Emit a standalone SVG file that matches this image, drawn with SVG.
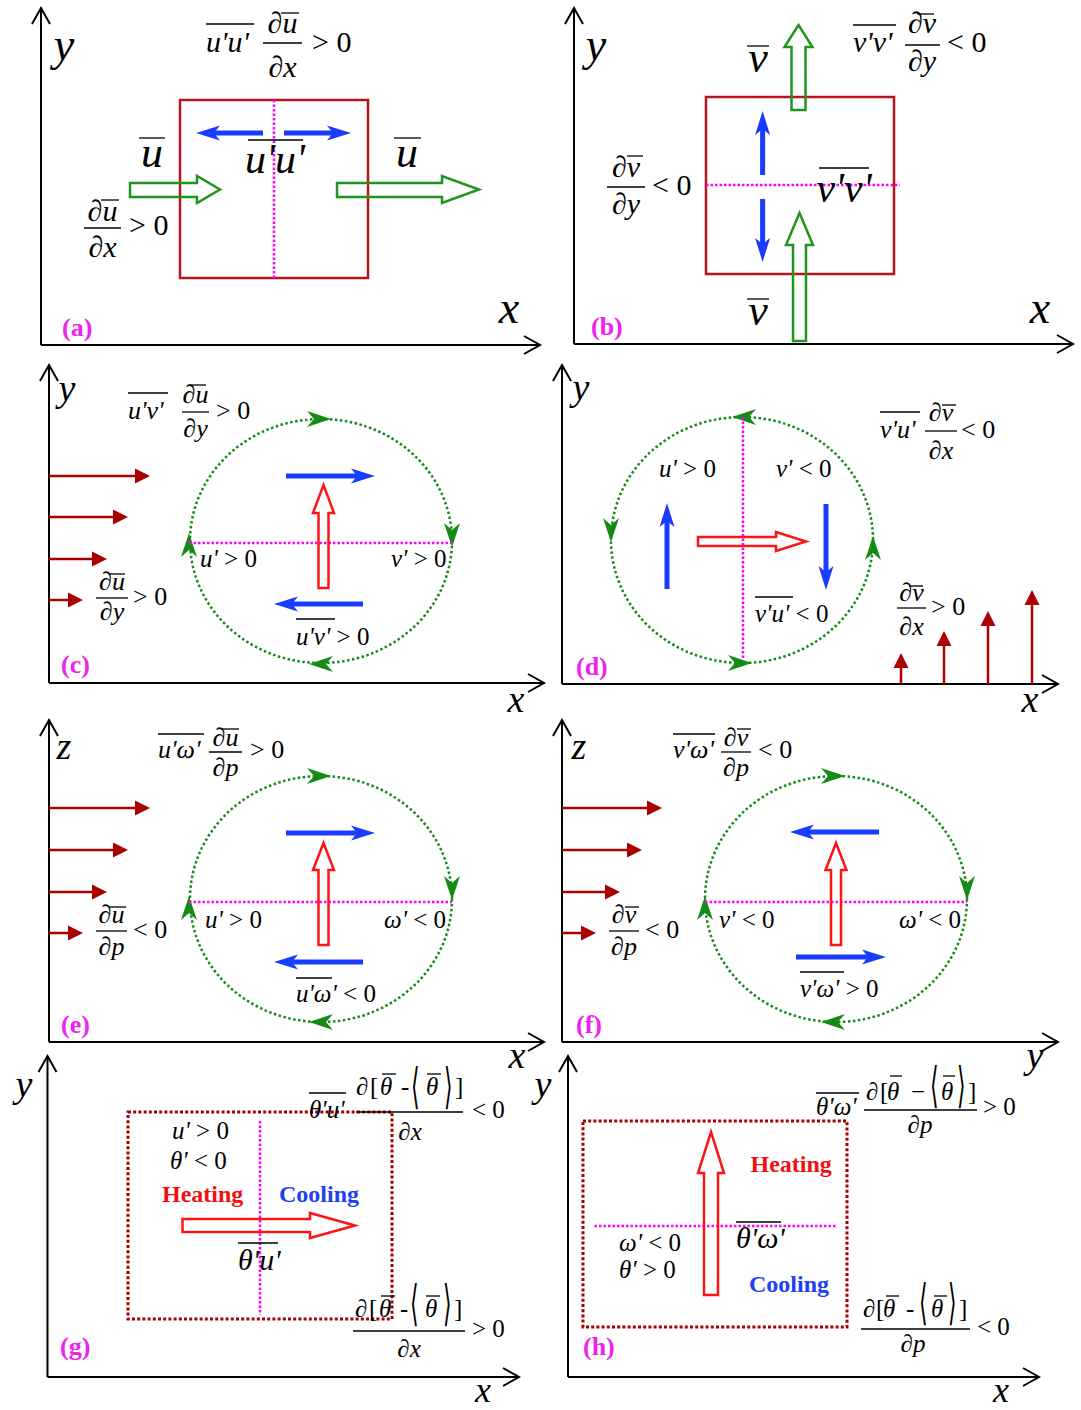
<svg xmlns="http://www.w3.org/2000/svg" xmlns:xlink="http://www.w3.org/1999/xlink" width="1081" height="1410" viewBox="0 0 1081 1410">
<style>
.t{font-family:"Liberation Serif",serif;fill:#000}
.i{font-style:italic}
.ax{fill:none;stroke:#000;stroke-width:2}
.ol{stroke:#000;stroke-width:1.3}
.box{fill:none;stroke:#b8141c;stroke-width:2.5}
.dbox{fill:none;stroke:#a30000;stroke-width:3;stroke-dasharray:3 2.2}
.mag{stroke:#ff00ff;stroke-width:2.5;stroke-dasharray:2.5 2}
.blue{stroke:#1a3cff;stroke-width:5}
.ga{fill:none;stroke:#1e961e;stroke-width:2.5}
.ra{fill:none;stroke:#ff1414;stroke-width:2.5}
.dr{stroke:#aa0000;stroke-width:2.5}
.circ{fill:none;stroke:#158a15;stroke-width:2.5;stroke-dasharray:2.5 2.5}
.lab{font-family:"Liberation Serif",serif;font-weight:bold;font-size:26px;fill:#ee22ee}
.heat{font-family:"Liberation Serif",serif;font-weight:bold;font-size:24px;fill:#f01010}
.cool{font-family:"Liberation Serif",serif;font-weight:bold;font-size:24px;fill:#1f3ff5}
.br{font-family:"Liberation Serif","DejaVu Serif",serif;font-size:22px;fill:#000}
</style>
<defs>
<marker id="ah" markerUnits="userSpaceOnUse" markerWidth="40" markerHeight="40" viewBox="-20 -20 40 40" refX="0" refY="0" orient="auto" overflow="visible"><path d="M-16,-9 L0,0 L-16,9" fill="none" stroke="#000" stroke-width="2"/></marker>
<marker id="bh" markerUnits="userSpaceOnUse" markerWidth="40" markerHeight="40" viewBox="-20 -20 40 40" refX="0" refY="0" orient="auto" overflow="visible"><path d="M14,0 L-10,-7.5 L-4,0 L-10,7.5 Z" fill="#1a3cff"/></marker>
<marker id="rh" markerUnits="userSpaceOnUse" markerWidth="40" markerHeight="40" viewBox="-20 -20 40 40" refX="0" refY="0" orient="auto" overflow="visible"><path d="M12,0 L-3,-7.5 L-3,7.5 Z" fill="#aa0000"/></marker>
<path id="gh" d="M12,0 L-12,-8 L-5,0 L-12,8 Z" fill="#158a15"/>
</defs>
<rect width="1081" height="1410" fill="#fff"/>

<g id="panel-a">
<path class="ax" d="M41,345 V8" marker-end="url(#ah)"/>
<path class="ax" d="M41,345 H540" marker-end="url(#ah)"/>
<text class="t i" font-size="46" x="64" y="60" text-anchor="middle">y</text>
<text class="t i" font-size="46" x="509" y="323" text-anchor="middle">x</text>
<rect class="box" x="180" y="100" width="188" height="178"/>
<line class="mag" x1="274" y1="100" x2="274" y2="280"/>
<line class="blue" x1="263" y1="133" x2="210" y2="133" marker-end="url(#bh)"/>
<line class="blue" x1="284" y1="133" x2="337" y2="133" marker-end="url(#bh)"/>
<polygon class="ga" points="130,183 197,183 197,176 220,189.5 197,203 197,197 130,197"/>
<polygon class="ga" points="337,183 442,183 442,176 479,189.5 442,203 442,197 337,197"/>
<text class="t i" font-size="44" x="152" y="167" text-anchor="middle">u</text>
<line class="ol" x1="139" y1="138" x2="165" y2="138"/>
<text class="t i" font-size="44" x="407" y="167" text-anchor="middle">u</text>
<line class="ol" x1="394" y1="138" x2="421" y2="138"/>
<text class="t i" font-size="42" x="275" y="173" text-anchor="middle">u'u'</text>
<line class="ol" x1="248" y1="140" x2="303" y2="140"/>
<text class="t i" font-size="30" x="206" y="52">u'u'</text>
<line class="ol" x1="206" y1="24" x2="254" y2="24"/>
<line class="ol" x1="263" y1="43" x2="302" y2="43"/>
<text class="t" font-size="30" x="282.5" y="33" text-anchor="middle">∂<tspan class="i">u</tspan></text>
<line class="ol" x1="281" y1="13" x2="299" y2="13"/>
<text class="t" font-size="30" x="282.5" y="77" text-anchor="middle">∂<tspan class="i">x</tspan></text>
<text class="t" font-size="30" x="312" y="52">&gt; 0</text>
<line class="ol" x1="84" y1="228" x2="121" y2="228"/>
<text class="t" font-size="30" x="102.5" y="221" text-anchor="middle">∂<tspan class="i">u</tspan></text>
<line class="ol" x1="101" y1="200" x2="119" y2="200"/>
<text class="t" font-size="30" x="102.5" y="257" text-anchor="middle">∂<tspan class="i">x</tspan></text>
<text class="t" font-size="30" x="129" y="235">&gt; 0</text>
<text class="lab" x="62" y="336">(a)</text>
</g>

<g id="panel-b">
<path class="ax" d="M574,344 V8" marker-end="url(#ah)"/>
<path class="ax" d="M574,344 H1073" marker-end="url(#ah)"/>
<text class="t i" font-size="46" x="596" y="60" text-anchor="middle">y</text>
<text class="t i" font-size="46" x="1040" y="323" text-anchor="middle">x</text>
<rect class="box" x="706" y="97" width="188" height="177"/>
<line class="mag" x1="706" y1="185" x2="900" y2="185"/>
<line class="blue" x1="762.6" y1="175" x2="762.6" y2="125" marker-end="url(#bh)"/>
<line class="blue" x1="762.6" y1="199" x2="762.6" y2="248" marker-end="url(#bh)"/>
<polygon class="ga" points="791.5,110 791.5,47 784.5,47 798.5,25 812.5,47 805.5,47 805.5,110"/>
<polygon class="ga" points="793,341 793,245 786,245 799.5,213 813,245 806,245 806,341"/>
<text class="t i" font-size="44" x="758" y="72" text-anchor="middle">v</text>
<line class="ol" x1="747" y1="46" x2="769" y2="46"/>
<text class="t i" font-size="44" x="758" y="325" text-anchor="middle">v</text>
<line class="ol" x1="747" y1="299" x2="769" y2="299"/>
<text class="t i" font-size="42" x="844" y="202" text-anchor="middle">v'v'</text>
<line class="ol" x1="819" y1="168" x2="869" y2="168"/>
<text class="t i" font-size="30" x="853" y="52">v'v'</text>
<line class="ol" x1="853" y1="25" x2="896" y2="25"/>
<line class="ol" x1="905" y1="45" x2="940" y2="45"/>
<text class="t" font-size="30" x="922" y="33" text-anchor="middle">∂<tspan class="i">v</tspan></text>
<line class="ol" x1="917" y1="14" x2="934" y2="14"/>
<text class="t" font-size="30" x="922" y="71" text-anchor="middle">∂<tspan class="i">y</tspan></text>
<text class="t" font-size="30" x="947" y="52">&lt; 0</text>
<line class="ol" x1="607" y1="187" x2="645" y2="187"/>
<text class="t" font-size="30" x="626" y="177" text-anchor="middle">∂<tspan class="i">v</tspan></text>
<line class="ol" x1="627" y1="156" x2="643" y2="156"/>
<text class="t" font-size="30" x="626" y="214" text-anchor="middle">∂<tspan class="i">y</tspan></text>
<text class="t" font-size="30" x="652" y="195">&lt; 0</text>
<text class="lab" x="591" y="335">(b)</text>
</g>

<g id="panel-c">
<path class="ax" d="M49,683 V365" marker-end="url(#ah)"/>
<path class="ax" d="M49,683 H544" marker-end="url(#ah)"/>
<text class="t i" font-size="38" x="67" y="401" text-anchor="middle">y</text>
<text class="t i" font-size="38" x="516" y="712" text-anchor="middle">x</text>
<line class="dr" x1="49" y1="476" x2="138" y2="476" marker-end="url(#rh)"/>
<line class="dr" x1="49" y1="517" x2="116" y2="517" marker-end="url(#rh)"/>
<line class="dr" x1="49" y1="559" x2="95" y2="559" marker-end="url(#rh)"/>
<line class="dr" x1="49" y1="600" x2="71" y2="600" marker-end="url(#rh)"/>
<ellipse class="circ" cx="321" cy="541" rx="131" ry="122"/>
<use xlink:href="#gh" transform="translate(319,419)"/>
<use xlink:href="#gh" transform="translate(452,535) rotate(90)"/>
<use xlink:href="#gh" transform="translate(321,664) rotate(180)"/>
<use xlink:href="#gh" transform="translate(189,545) rotate(-90)"/>
<line class="mag" x1="189" y1="543" x2="452" y2="543"/>
<line class="blue" x1="286" y1="476" x2="361" y2="476" marker-end="url(#bh)"/>
<line class="blue" x1="363" y1="604" x2="288" y2="604" marker-end="url(#bh)"/>
<polygon class="ra" points="318.5,588 318.5,513 313,513 323.5,485 334,513 328.5,513 328.5,588"/>
<text class="t i" font-size="25" x="200" y="567">u'<tspan font-style="normal"> &gt; 0</tspan></text>
<text class="t i" font-size="25" x="391" y="567">v'<tspan font-style="normal"> &gt; 0</tspan></text>
<text class="t i" font-size="25" x="296" y="645">u'v'<tspan font-style="normal"> &gt; 0</tspan></text>
<line class="ol" x1="296" y1="619" x2="335" y2="619"/>
<text class="t i" font-size="26" x="128" y="419">u'v'</text>
<line class="ol" x1="128" y1="393" x2="168" y2="393"/>
<line class="ol" x1="182" y1="412" x2="209" y2="412"/>
<text class="t" font-size="26" x="195.5" y="403" text-anchor="middle">∂<tspan class="i">u</tspan></text>
<line class="ol" x1="190" y1="385" x2="206" y2="385"/>
<text class="t" font-size="26" x="195.5" y="437" text-anchor="middle">∂<tspan class="i">y</tspan></text>
<text class="t" font-size="26" x="216" y="419">&gt; 0</text>
<line class="ol" x1="96" y1="598" x2="128" y2="598"/>
<text class="t" font-size="26" x="112" y="590" text-anchor="middle">∂<tspan class="i">u</tspan></text>
<line class="ol" x1="109" y1="574" x2="125" y2="574"/>
<text class="t" font-size="26" x="112" y="620" text-anchor="middle">∂<tspan class="i">y</tspan></text>
<text class="t" font-size="26" x="133" y="605">&gt; 0</text>
<text class="lab" x="61" y="673">(c)</text>
</g>

<g id="panel-d">
<path class="ax" d="M562,684 V365" marker-end="url(#ah)"/>
<path class="ax" d="M562,684 H1058" marker-end="url(#ah)"/>
<text class="t i" font-size="38" x="581" y="400" text-anchor="middle">y</text>
<text class="t i" font-size="38" x="1030" y="712" text-anchor="middle">x</text>
<ellipse class="circ" cx="742" cy="540" rx="131" ry="123"/>
<use xlink:href="#gh" transform="translate(744,417) rotate(180)"/>
<use xlink:href="#gh" transform="translate(611,530) rotate(90)"/>
<use xlink:href="#gh" transform="translate(740,663)"/>
<use xlink:href="#gh" transform="translate(873,548) rotate(-90)"/>
<line class="mag" x1="743" y1="417" x2="743" y2="658"/>
<line class="blue" x1="667" y1="589" x2="667" y2="517" marker-end="url(#bh)"/>
<line class="blue" x1="826" y1="504" x2="826" y2="576" marker-end="url(#bh)"/>
<polygon class="ra" points="698,537 776,537 776,532 806,541.5 776,551 776,546 698,546"/>
<line class="dr" x1="901" y1="684" x2="901" y2="665" marker-end="url(#rh)"/>
<line class="dr" x1="944" y1="684" x2="944" y2="643" marker-end="url(#rh)"/>
<line class="dr" x1="988" y1="684" x2="988" y2="623" marker-end="url(#rh)"/>
<line class="dr" x1="1032" y1="684" x2="1032" y2="602" marker-end="url(#rh)"/>
<text class="t i" font-size="25" x="659" y="477">u'<tspan font-style="normal"> &gt; 0</tspan></text>
<text class="t i" font-size="25" x="776" y="477">v'<tspan font-style="normal"> &lt; 0</tspan></text>
<text class="t i" font-size="25" x="755" y="622">v'u'<tspan font-style="normal"> &lt; 0</tspan></text>
<line class="ol" x1="755" y1="597" x2="793" y2="597"/>
<text class="t i" font-size="26" x="880" y="438">v'u'</text>
<line class="ol" x1="880" y1="412" x2="920" y2="412"/>
<line class="ol" x1="925" y1="431" x2="957" y2="431"/>
<text class="t" font-size="26" x="941" y="421" text-anchor="middle">∂<tspan class="i">v</tspan></text>
<line class="ol" x1="942" y1="405" x2="956" y2="405"/>
<text class="t" font-size="26" x="941" y="459" text-anchor="middle">∂<tspan class="i">x</tspan></text>
<text class="t" font-size="26" x="961" y="438">&lt; 0</text>
<line class="ol" x1="897" y1="608" x2="926" y2="608"/>
<text class="t" font-size="26" x="911.5" y="601" text-anchor="middle">∂<tspan class="i">v</tspan></text>
<line class="ol" x1="909" y1="586" x2="923" y2="586"/>
<text class="t" font-size="26" x="911.5" y="635" text-anchor="middle">∂<tspan class="i">x</tspan></text>
<text class="t" font-size="26" x="931" y="615">&gt; 0</text>
<text class="lab" x="576" y="675">(d)</text>
</g>

<g id="panel-e">
<path class="ax" d="M49,1042 V720" marker-end="url(#ah)"/>
<path class="ax" d="M49,1042 H544" marker-end="url(#ah)"/>
<text class="t i" font-size="38" x="64" y="759" text-anchor="middle">z</text>
<text class="t i" font-size="38" x="517" y="1068" text-anchor="middle">x</text>
<line class="dr" x1="49" y1="808" x2="138" y2="808" marker-end="url(#rh)"/>
<line class="dr" x1="49" y1="850" x2="116" y2="850" marker-end="url(#rh)"/>
<line class="dr" x1="49" y1="892" x2="95" y2="892" marker-end="url(#rh)"/>
<line class="dr" x1="49" y1="933" x2="71" y2="933" marker-end="url(#rh)"/>
<ellipse class="circ" cx="321" cy="899" rx="131" ry="123"/>
<use xlink:href="#gh" transform="translate(319,776)"/>
<use xlink:href="#gh" transform="translate(452,888) rotate(90)"/>
<use xlink:href="#gh" transform="translate(321,1022) rotate(180)"/>
<use xlink:href="#gh" transform="translate(189,908) rotate(-90)"/>
<line class="mag" x1="189" y1="902" x2="452" y2="902"/>
<line class="blue" x1="286" y1="833" x2="361" y2="833" marker-end="url(#bh)"/>
<line class="blue" x1="363" y1="962" x2="288" y2="962" marker-end="url(#bh)"/>
<polygon class="ra" points="318.5,945 318.5,870 313,870 323.5,843 334,870 328.5,870 328.5,945"/>
<text class="t i" font-size="25" x="205" y="928">u'<tspan font-style="normal"> &gt; 0</tspan></text>
<text class="t i" font-size="25" x="384" y="928">ω'<tspan font-style="normal"> &lt; 0</tspan></text>
<text class="t i" font-size="25" x="296" y="1002">u'ω'<tspan font-style="normal"> &lt; 0</tspan></text>
<line class="ol" x1="296" y1="978" x2="332" y2="978"/>
<text class="t i" font-size="26" x="158" y="758">u'ω'</text>
<line class="ol" x1="158" y1="734" x2="204" y2="734"/>
<line class="ol" x1="209" y1="752" x2="242" y2="752"/>
<text class="t" font-size="26" x="225.5" y="746" text-anchor="middle">∂<tspan class="i">u</tspan></text>
<line class="ol" x1="221" y1="729" x2="239" y2="729"/>
<text class="t" font-size="26" x="225.5" y="776" text-anchor="middle">∂<tspan class="i">p</tspan></text>
<text class="t" font-size="26" x="250" y="758">&gt; 0</text>
<line class="ol" x1="96" y1="931" x2="127" y2="931"/>
<text class="t" font-size="26" x="111.5" y="923" text-anchor="middle">∂<tspan class="i">u</tspan></text>
<line class="ol" x1="109" y1="907" x2="126" y2="907"/>
<text class="t" font-size="26" x="111.5" y="955" text-anchor="middle">∂<tspan class="i">p</tspan></text>
<text class="t" font-size="26" x="133" y="938">&lt; 0</text>
<text class="lab" x="61" y="1033">(e)</text>
</g>

<g id="panel-f">
<path class="ax" d="M562,1042 V720" marker-end="url(#ah)"/>
<path class="ax" d="M562,1042 H1058" marker-end="url(#ah)"/>
<text class="t i" font-size="38" x="579" y="759" text-anchor="middle">z</text>
<text class="t i" font-size="38" x="1035" y="1068" text-anchor="middle">y</text>
<line class="dr" x1="562" y1="808" x2="650" y2="808" marker-end="url(#rh)"/>
<line class="dr" x1="562" y1="850" x2="630" y2="850" marker-end="url(#rh)"/>
<line class="dr" x1="562" y1="892" x2="608" y2="892" marker-end="url(#rh)"/>
<line class="dr" x1="562" y1="933" x2="584" y2="933" marker-end="url(#rh)"/>
<ellipse class="circ" cx="836" cy="899" rx="131" ry="123"/>
<use xlink:href="#gh" transform="translate(833,776)"/>
<use xlink:href="#gh" transform="translate(967,888) rotate(90)"/>
<use xlink:href="#gh" transform="translate(833,1022) rotate(180)"/>
<use xlink:href="#gh" transform="translate(705,908) rotate(-90)"/>
<line class="mag" x1="705" y1="902" x2="967" y2="902"/>
<line class="blue" x1="879" y1="832" x2="804" y2="832" marker-end="url(#bh)"/>
<line class="blue" x1="796" y1="957" x2="872" y2="957" marker-end="url(#bh)"/>
<polygon class="ra" points="831,945 831,870 825.5,870 836,843 846.5,870 841,870 841,945"/>
<text class="t i" font-size="25" x="719" y="928">v'<tspan font-style="normal"> &lt; 0</tspan></text>
<text class="t i" font-size="25" x="899" y="928">ω'<tspan font-style="normal"> &lt; 0</tspan></text>
<text class="t i" font-size="25" x="800" y="997">v'ω'<tspan font-style="normal"> &gt; 0</tspan></text>
<line class="ol" x1="800" y1="972" x2="844" y2="972"/>
<text class="t i" font-size="26" x="673" y="758">v'ω'</text>
<line class="ol" x1="673" y1="734" x2="715" y2="734"/>
<line class="ol" x1="721" y1="752" x2="751" y2="752"/>
<text class="t" font-size="26" x="736" y="746" text-anchor="middle">∂<tspan class="i">v</tspan></text>
<line class="ol" x1="737" y1="729" x2="751" y2="729"/>
<text class="t" font-size="26" x="736" y="776" text-anchor="middle">∂<tspan class="i">p</tspan></text>
<text class="t" font-size="26" x="758" y="758">&lt; 0</text>
<line class="ol" x1="609" y1="931" x2="639" y2="931"/>
<text class="t" font-size="26" x="624" y="923" text-anchor="middle">∂<tspan class="i">v</tspan></text>
<line class="ol" x1="625" y1="907" x2="639" y2="907"/>
<text class="t" font-size="26" x="624" y="955" text-anchor="middle">∂<tspan class="i">p</tspan></text>
<text class="t" font-size="26" x="645" y="938">&lt; 0</text>
<text class="lab" x="576" y="1033">(f)</text>
</g>

<g id="panel-g">
<path class="ax" d="M47.5,1377 V1056" marker-end="url(#ah)"/>
<path class="ax" d="M47.5,1377 H519" marker-end="url(#ah)"/>
<text class="t i" font-size="38" x="24" y="1097" text-anchor="middle">y</text>
<text class="t i" font-size="36" x="483" y="1402" text-anchor="middle">x</text>
<rect class="dbox" x="128" y="1112" width="264" height="207"/>
<line class="mag" x1="260" y1="1121" x2="260" y2="1315"/>
<text class="t i" font-size="25" x="172" y="1139">u'<tspan font-style="normal"> &gt; 0</tspan></text>
<text class="t i" font-size="25" x="170" y="1169">θ'<tspan font-style="normal"> &lt; 0</tspan></text>
<text class="heat" x="162" y="1202">Heating</text>
<text class="cool" x="279" y="1202">Cooling</text>
<polygon class="ra" points="182.5,1219 310,1219 310,1213 355,1225.5 310,1238 310,1232 182.5,1232"/>
<text class="t i" font-size="30" x="238" y="1270">θ'u'</text>
<line class="ol" x1="238" y1="1243" x2="278" y2="1243"/>
<text class="t i" font-size="25" x="309" y="1118">θ'u'</text>
<line class="ol" x1="309" y1="1093" x2="346" y2="1093"/>
<text class="t" font-size="25" y="1095"><tspan x="356">∂</tspan><tspan x="370">[</tspan><tspan x="380" class="i">θ</tspan><tspan x="401">-</tspan><tspan x="455">]</tspan></text>
<text class="br" transform="translate(411,1103) scale(1,2.2)">⟨</text>
<text class="br" transform="translate(444,1103) scale(1,2.2)">⟩</text>
<text class="t i" font-size="25" x="426" y="1095">θ</text>
<line class="ol" x1="382" y1="1074" x2="396" y2="1074"/>
<line class="ol" x1="427" y1="1074" x2="441" y2="1074"/>
<line class="ol" x1="356" y1="1112" x2="463" y2="1112"/>
<text class="t" font-size="25" x="410" y="1140" text-anchor="middle">∂<tspan class="i">x</tspan></text>
<text class="t" font-size="25" x="472" y="1118">&lt; 0</text>
<text class="t" font-size="25" y="1317"><tspan x="355">∂</tspan><tspan x="369">[</tspan><tspan x="379" class="i">θ</tspan><tspan x="400">-</tspan><tspan x="454">]</tspan></text>
<text class="br" transform="translate(410,1320) scale(1,2.2)">⟨</text>
<text class="br" transform="translate(443,1320) scale(1,2.2)">⟩</text>
<text class="t i" font-size="25" x="425" y="1317">θ</text>
<line class="ol" x1="381" y1="1296" x2="395" y2="1296"/>
<line class="ol" x1="426" y1="1296" x2="440" y2="1296"/>
<line class="ol" x1="353" y1="1331" x2="465" y2="1331"/>
<text class="t" font-size="25" x="409" y="1357" text-anchor="middle">∂<tspan class="i">x</tspan></text>
<text class="t" font-size="25" x="472" y="1337">&gt; 0</text>
<text class="lab" x="60" y="1355">(g)</text>
</g>

<g id="panel-h">
<path class="ax" d="M568,1377 V1056" marker-end="url(#ah)"/>
<path class="ax" d="M568,1377 H1039" marker-end="url(#ah)"/>
<text class="t i" font-size="38" x="543" y="1097" text-anchor="middle">y</text>
<text class="t i" font-size="36" x="1001" y="1402" text-anchor="middle">x</text>
<rect class="dbox" x="583" y="1121" width="264" height="206"/>
<line class="mag" x1="594.5" y1="1226" x2="837" y2="1226"/>
<polygon class="ra" points="704,1295 704,1173 698,1173 711,1132 724,1173 718,1173 718,1295"/>
<text class="heat" x="750.5" y="1172">Heating</text>
<text class="cool" x="749" y="1292">Cooling</text>
<text class="t i" font-size="30" x="736" y="1248">θ'ω'</text>
<line class="ol" x1="736" y1="1222" x2="781" y2="1222"/>
<text class="t i" font-size="25" x="619" y="1251">ω'<tspan font-style="normal"> &lt; 0</tspan></text>
<text class="t i" font-size="25" x="619" y="1278">θ'<tspan font-style="normal"> &gt; 0</tspan></text>
<text class="t i" font-size="25" x="816" y="1115">θ'ω'</text>
<line class="ol" x1="816" y1="1093" x2="859" y2="1093"/>
<text class="t" font-size="25" y="1100"><tspan x="866">∂</tspan><tspan x="880">[</tspan><tspan x="887" class="i">θ</tspan><tspan x="911">−</tspan><tspan x="968">]</tspan></text>
<text class="br" transform="translate(930,1102) scale(1,2.2)">⟨</text>
<text class="br" transform="translate(957,1102) scale(1,2.2)">⟩</text>
<text class="t i" font-size="25" x="941" y="1100">θ</text>
<line class="ol" x1="890" y1="1076" x2="902" y2="1076"/>
<line class="ol" x1="943" y1="1076" x2="955" y2="1076"/>
<line class="ol" x1="864" y1="1110" x2="977" y2="1110"/>
<text class="t" font-size="25" x="920" y="1133" text-anchor="middle">∂<tspan class="i">p</tspan></text>
<text class="t" font-size="25" x="983" y="1115">&gt; 0</text>
<text class="t" font-size="25" y="1317"><tspan x="863">∂</tspan><tspan x="876">[</tspan><tspan x="883" class="i">θ</tspan><tspan x="906">-</tspan><tspan x="959">]</tspan></text>
<text class="br" transform="translate(919,1319) scale(1,2.2)">⟨</text>
<text class="br" transform="translate(948,1319) scale(1,2.2)">⟩</text>
<text class="t i" font-size="25" x="931" y="1317">θ</text>
<line class="ol" x1="886" y1="1296" x2="899" y2="1296"/>
<line class="ol" x1="934" y1="1296" x2="947" y2="1296"/>
<line class="ol" x1="861" y1="1329" x2="970" y2="1329"/>
<text class="t" font-size="25" x="913" y="1352" text-anchor="middle">∂<tspan class="i">p</tspan></text>
<text class="t" font-size="25" x="977" y="1335">&lt; 0</text>
<text class="lab" x="583" y="1355">(h)</text>
</g>
</svg>
